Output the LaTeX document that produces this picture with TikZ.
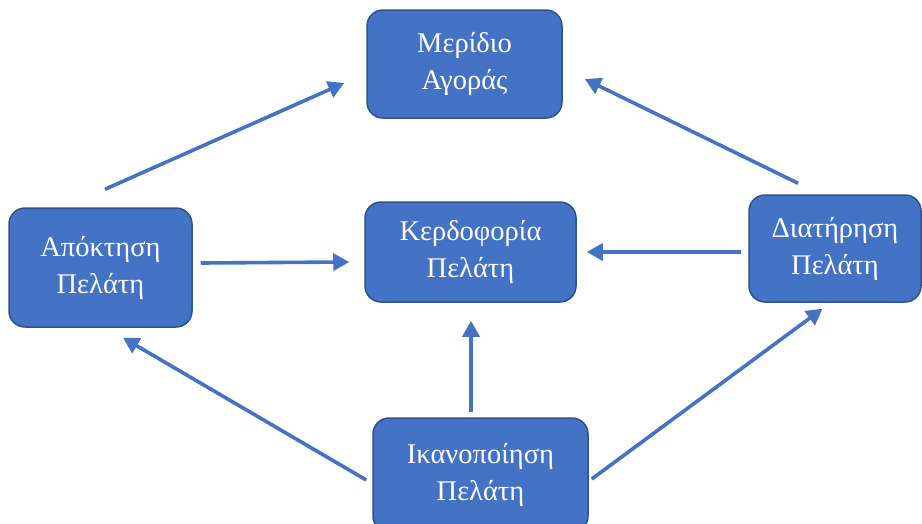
\documentclass[tikz,border=0pt]{standalone}
\usepackage{fontspec}
\setmainfont{Liberation Serif}
\usetikzlibrary{arrows.meta,calc}
\definecolor{boxblue}{HTML}{4472C4}
\definecolor{boxedge}{HTML}{2F528F}
\tikzset{
  box/.style={rectangle, rounded corners=16pt, fill=boxblue, draw=boxedge, line width=1.5pt,
    text=white, align=center, inner sep=0pt,
    font=\fontsize{28.5}{37}\selectfont},
  arr/.style={draw=boxblue, line width=3.6pt, -{Triangle[length=16pt,width=17pt]}}
}
\begin{document}
\begin{tikzpicture}[x=1pt,y=-1pt]
			\useasboundingbox (0,0) rectangle (922,523);
			
			%Shape: Boxes
			\node[box, minimum width=195pt, minimum height=108pt] (meridio) at (464.5,64) {Μερίδιο\\Αγοράς};
			\node[box, minimum width=211pt, minimum height=100pt] (kerdos) at (470.5,252) {Κερδοφορία\\Πελάτη};
			\node[box, minimum width=183pt, minimum height=119pt] (apoktisi) at (100.5,267.5) {Απόκτηση\\Πελάτη};
			\node[box, minimum width=172pt, minimum height=107pt] (diatirisi) at (835,248.5) {Διατήρηση\\Πελάτη};
			\node[box, minimum width=215pt, minimum height=114pt] (ikanop) at (480.5,475) {Ικανοποίηση\\Πελάτη};
			
			%Arrows
			\draw[arr] ($(apoktisi.north)+(4.5,-18)$) -- ($(meridio.west)+(-22,19)$);
			\draw[arr] ($(diatirisi.north)+(-37,-11)$) -- ($(meridio.east)+(22,15)$);
			\draw[arr] ($(apoktisi.east)+(8,-4.5)$) -- ($(kerdos.west)+(-15,10)$);
			\draw[arr] ($(diatirisi.west)+(-7,3.5)$) -- ($(kerdos.east)+(10,0)$);
			\draw[arr] ($(ikanop.north)+(-9.5,-5)$) -- ($(kerdos.south)+(0.5,18)$);
			\draw[arr] ($(ikanop.west)+(-6,5)$) -- ($(apoktisi.south)+(22.5,10)$);
			\draw[arr] ($(ikanop.east)+(3,4)$) -- ($(diatirisi.south)+(-12.5,6)$);
		\end{tikzpicture}
\end{document}
